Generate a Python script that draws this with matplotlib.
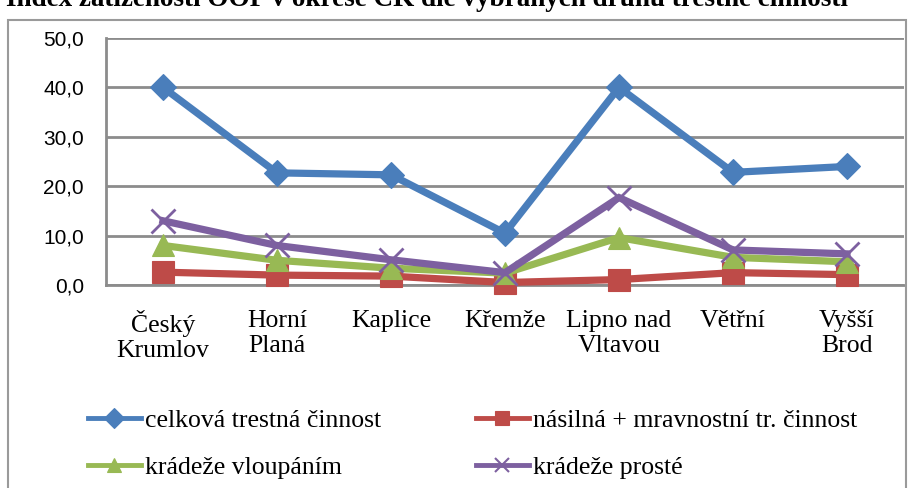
import matplotlib
matplotlib.use("Agg")
import matplotlib.pyplot as plt
from matplotlib.patches import Rectangle
from matplotlib.lines import Line2D

categories = ["Český\nKrumlov", "Horní\nPlaná", "Kaplice", "Křemže", "Lipno nad\nVltavou", "Větřní", "Vyšší\nBrod"]
celkova = [40.0, 22.7, 22.3, 10.5, 40.0, 22.8, 24.0]
nasilna = [2.6, 2.0, 1.8, 0.5, 1.1, 2.5, 2.1]
vloupani = [8.0, 5.0, 3.4, 2.4, 9.6, 5.6, 4.7]
proste = [13.0, 8.0, 5.1, 2.5, 17.7, 7.1, 6.3]
series_names = ["celková trestná činnost", "násilná + mravnostní tr. činnost",
                "krádeže vloupáním", "krádeže prosté"]
yticks = [0, 10, 20, 30, 40, 50]
ytick_labels = ["0,0", "10,0", "20,0", "30,0", "40,0", "50,0"]
title = "Index zatíženosti OOP v okrese CK dle vybraných druhů trestné činnosti"

SERIF = ['Liberation Serif', 'DejaVu Serif']
plt.rcParams['font.family'] = SERIF

W, H = 922, 488
fig = plt.figure(figsize=(W/100, H/100), dpi=100)

# outer chart frame
fig.patches.append(Rectangle((8/W, -0.1), (906-8)/W, 1.1 - 20/H, transform=fig.transFigure,
                             fill=False, edgecolor="#9a9a9a", linewidth=1.5))

# title (clipped at top like the reference)
fig.text(6/W, 1 - 6/H, title, ha="left", va="baseline", fontsize=19.5,
         fontweight="bold", family=SERIF)

ax = fig.add_axes([106/W, 1 - 285/H, (904-106)/W, (285-38)/H])
x = list(range(len(categories)))

colors = ["#4A7EBB", "#BE4B48", "#98B954", "#7D60A0"]
data = [celkova, nasilna, vloupani, proste]
markers = ["D", "s", "^", "x"]
msizes = [13, 16, 16, 17]

handles = []
for d, c, m, ms, name in zip(data, colors, markers, msizes, series_names):
    mew = 2 if m == "x" else 0.8
    ax.plot(x, d, color=c, linewidth=5.2, marker=m, markersize=ms,
            markeredgecolor=c, markeredgewidth=mew, clip_on=False, zorder=3,
            solid_joinstyle="miter")
    handles.append(Line2D([0], [0], color=c, linewidth=3.5, marker=m, markersize=10,
                          markeredgecolor=c, markeredgewidth=1.5 if m == "x" else 0.8,
                          label=name))

ax.set_xlim(-0.5, len(categories) - 0.5)
ax.set_ylim(0, 50)
ax.set_yticks(yticks)
ax.set_yticklabels(ytick_labels, fontsize=15, family=["Liberation Sans", "DejaVu Sans"])
ax.set_xticks(x)
ax.set_xticklabels(categories, fontsize=18.5, linespacing=1.18, family=SERIF)
ax.tick_params(axis="y", length=0, pad=16)
ax.tick_params(axis="x", length=0, pad=18)
ax.grid(axis="y", color="#8c8c8c", linewidth=2)
ax.set_axisbelow(True)
for s in ["top", "right"]:
    ax.spines[s].set_visible(False)
for s in ["left", "bottom"]:
    ax.spines[s].set_color("#8c8c8c")
    ax.spines[s].set_linewidth(2)

common = dict(loc="upper left", frameon=False, prop=dict(family=SERIF, size=18.5),
              handlelength=2.05, handletextpad=0.15, labelspacing=0.95,
              borderaxespad=0, borderpad=0)
leg1 = fig.legend(handles=[handles[0], handles[2]], bbox_to_anchor=(88/W, 1 - 409/H), **common)
leg2 = fig.legend(handles=[handles[1], handles[3]], bbox_to_anchor=(476/W, 1 - 409/H), **common)

fig.savefig("out.png", dpi=100)
